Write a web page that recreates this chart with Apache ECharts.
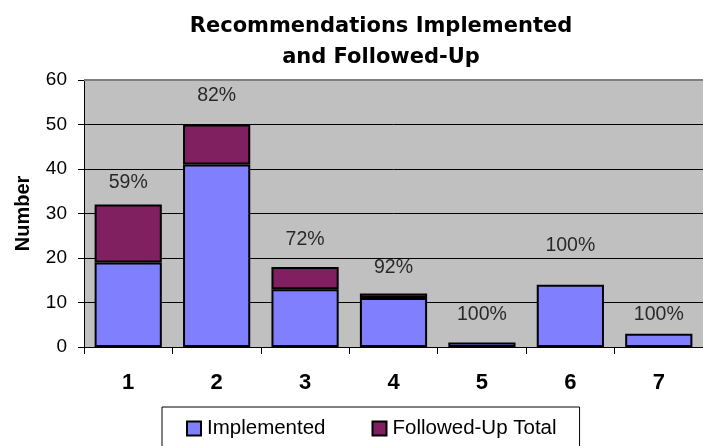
<!DOCTYPE html>
<html><head><meta charset="utf-8">
<script src="https://cdn.jsdelivr.net/npm/echarts@6/dist/echarts.min.js"></script>
<style>html,body{margin:0;padding:0;background:#fff}#c{width:703px;height:446px}</style>
</head><body><div id="c"></div>
<script>
const categories = ['1','2','3','4','5','6','7'];
const implemented = [19, 41, 13, 11, 1, 14, 3];
const followedUpExtra = [13, 9, 5, 1, 0, 0, 0];
const pctLabels = ['59%','82%','72%','92%','100%','100%','100%'];
const pctLabelY = [36.9, 56.6, 24.2, 17.9, 7.2, 22.8, 7.2];
const yTicks = [0, 10, 20, 30, 40, 50, 60];

const chart = echarts.init(document.getElementById('c'), null, {renderer:'canvas'});
chart.setOption({
  animation: false,
  backgroundColor: '#fff',
  title: {
    text: 'Recommendations Implemented\nand Followed-Up',
    left: 376, textAlign: 'center', top: 6,
    textStyle: {fontFamily: 'DejaVu Sans', fontWeight: 'bold', fontSize: 21, lineHeight: 31, color: '#000'}
  },
  legend: {
    data: ['Implemented', 'Followed-Up Total'],
    left: 162, top: 407,
    padding: [11, 23, 20, 24],
    itemGap: 46,
    itemWidth: 14, itemHeight: 14,
    borderColor: '#000', borderWidth: 1,
    textStyle: {fontFamily: 'Liberation Sans', fontSize: 20.5, color: '#000', padding: [0, 0, 0, 1]},
    icon: 'rect'
  },
  grid: {left: 84, top: 80, width: 622, height: 267, backgroundColor: '#C0C0C0', show: true, borderWidth: 0},
  xAxis: {
    type: 'category', data: categories,
    axisLine: {lineStyle: {color: '#000', width: 1}},
    axisTick: {show: true, alignWithLabel: false, length: 7, lineStyle: {color: '#000'}},
    axisLabel: {fontFamily: 'Liberation Sans', fontWeight: 'bold', fontSize: 22, color: '#000', margin: 25}
  },
  yAxis: {
    type: 'value', min: yTicks[0], max: yTicks[yTicks.length-1], interval: 10,
    name: 'Number', nameLocation: 'middle', nameGap: 51,
    nameTextStyle: {fontFamily: 'Liberation Sans', fontWeight: 'bold', fontSize: 20, color: '#000'},
    axisLine: {show: true, lineStyle: {color: '#000'}},
    axisTick: {show: true, inside: false, length: 6, lineStyle: {color: '#000'}},
    axisLabel: {fontFamily: 'Liberation Sans', fontSize: 19, color: '#000', margin: 17},
    splitLine: {show: true, lineStyle: {color: ['#000','#000','#000','#000','#000','#000','#808080'], width: 1}}
  },
  series: [
    {name: 'Implemented', type: 'bar', stack: 'a', data: implemented, barCategoryGap: '24%',
     itemStyle: {color: '#8080FF', borderColor: '#000', borderWidth: 2},
     markLine: {silent: true, symbol: 'none', label: {show: false},
       lineStyle: {color: '#808080', width: 2, type: 'solid'},
       data: [{yAxis: yTicks[yTicks.length-1]}]}},
    {name: 'Followed-Up Total', type: 'bar', stack: 'a',
     data: followedUpExtra.map(v => v === 0 ? '-' : v),
     itemStyle: {color: '#802060', borderColor: '#000', borderWidth: 2}},
    {name: 'pct', type: 'scatter', symbolSize: 0, silent: true,
     data: pctLabelY.map((v, i) => ({value: [categories[i], v], label: {formatter: pctLabels[i]}})),
     label: {show: true, position: 'inside', fontFamily: 'Liberation Sans', fontSize: 19.5, color: '#000'}}
  ]
});
</script></body></html>
